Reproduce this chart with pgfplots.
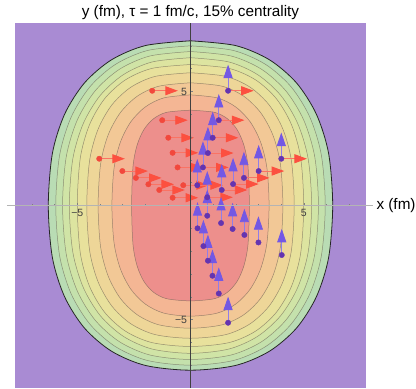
\documentclass[border=0pt]{standalone}
\usepackage{fontspec}
\setmainfont{Liberation Sans}
\usepackage{pgfplots}
\pgfplotsset{compat=1.18}
\usepackage{pgfplotstable}
\usetikzlibrary{arrows.meta}

\definecolor{bgp}{RGB}{169,139,211}
\definecolor{c1}{RGB}{185,220,180}
\definecolor{c2}{RGB}{196,225,172}
\definecolor{c3}{RGB}{208,228,166}
\definecolor{c4}{RGB}{221,228,160}
\definecolor{c5}{RGB}{232,225,156}
\definecolor{c6}{RGB}{238,214,152}
\definecolor{c7}{RGB}{242,200,150}
\definecolor{c8}{RGB}{244,182,148}
\definecolor{c9}{RGB}{237,143,140}
\definecolor{cline}{RGB}{100,90,80}
\definecolor{redA}{RGB}{252,80,64}
\definecolor{redS}{RGB}{250,115,100}
\definecolor{redD}{RGB}{242,72,60}
\definecolor{bluA}{RGB}{116,88,228}
\definecolor{bluS}{RGB}{145,125,232}
\definecolor{purD}{RGB}{100,52,176}

% upper-right particles: purple dot, red (x) and blue (y) arrows
\pgfplotstableread{
x y
1.66 5.03
1.25 3.74
0.98 2.97
0.77 2.30
0.55 1.67
0.30 0.89
0.74 0.36
1.38 0.68
1.88 0.94
2.36 1.21
3.01 1.51
4.01 2.05
}\TR
% upper-left particles: red dot, red arrows
\pgfplotstableread{
x y
-1.69 5.03
-1.25 3.74
-0.98 2.97
-0.79 2.31
-0.57 1.67
-0.32 0.89
-0.79 0.34
-1.38 0.68
-1.86 0.93
-2.41 1.21
-3.01 1.51
-4.03 2.05
}\TL
% lower-right particles: purple dot, blue arrows
\pgfplotstableread{
x y
1.66 -5.14
1.25 -3.86
0.97 -3.08
0.77 -2.42
0.57 -1.78
0.31 -1.00
0.74 -0.45
1.35 -0.77
1.86 -1.03
2.38 -1.29
3.00 -1.62
4.03 -2.17
}\BR

\begin{document}
\begin{tikzpicture}
\useasboundingbox (0,0) rectangle (416bp,389bp);
\begin{axis}[
  scale only axis, width=351bp, height=365bp,
  at={(15bp,1bp)}, anchor=south west,
  xmin=-7.75, xmax=7.75, ymin=-8, ymax=8,
  axis background/.style={fill=bgp},
  axis lines=middle,
  axis on top,
  x axis line style={-, draw={rgb,255:red,180;green,180;blue,180}, line width=1.3bp, shorten <=-8bp, shorten >=-7bp},
  y axis line style={-, draw=black!75, line width=0.6bp},
  xtick={-5,5}, xticklabels={−5,5},
  ytick={-5,5}, yticklabels={−5,5},
  minor xtick={-7,-6,-4,-3,-2,-1,1,2,3,4,6,7},
  minor ytick={-7,-6,-4,-3,-2,-1,1,2,3,4,6,7},
  tick align=inside,
  major tick length=3bp, minor tick length=2bp,
  tick style={draw=black!50, line width=0.4bp},
  xticklabel style={font=\fontsize{10.5bp}{12bp}\selectfont, text=black!75},
  yticklabel style={font=\fontsize{10.5bp}{12bp}\selectfont, text=black!75},
  title={y (fm), τ = 1 fm/c, 15\% centrality},
  every axis title/.style={at={(0.5,1)}, anchor=south, yshift=0bp, font=\fontsize{15.3bp}{17bp}\selectfont},
  xlabel={x (fm)},
  every axis x label/.style={at={(axis cs:7.75,0)}, anchor=west, xshift=7bp, font=\fontsize{15.3bp}{17bp}\selectfont},
]
% filled contour bands, outer to inner
\addplot[fill=c1, draw=black!85, line width=0.8bp, smooth] coordinates {
(0,7.22) (1.991,7.011) (3.484,6.389) (4.678,5.378) (5.557,4.006) (6.098,2.289) (6.28,0) (6.098,-2.289) (5.557,-4.006) (4.678,-5.378) (3.484,-6.389) (1.991,-7.011) (0,-7.22) (-1.991,-7.011) (-3.484,-6.389) (-4.678,-5.378) (-5.557,-4.006) (-6.098,-2.289) (-6.28,0) (-6.098,2.289) (-5.557,4.006) (-4.678,5.378) (-3.484,6.389) (-1.991,7.011) (0,7.22)};
\addplot[fill=c2, draw=cline, draw opacity=0.6, line width=0.5bp, smooth] coordinates {
(0,7.0) (1.886,6.797) (3.301,6.194) (4.432,5.214) (5.265,3.884) (5.777,2.219) (5.95,0) (5.777,-2.219) (5.265,-3.884) (4.432,-5.214) (3.301,-6.194) (1.886,-6.797) (0,-7.0) (-1.886,-6.797) (-3.301,-6.194) (-4.432,-5.214) (-5.265,-3.884) (-5.777,-2.219) (-5.95,0) (-5.777,2.219) (-5.265,3.884) (-4.432,5.214) (-3.301,6.194) (-1.886,6.797) (0,7.0)};
\addplot[fill=c3, draw=cline, draw opacity=0.6, line width=0.5bp, smooth] coordinates {
(0,6.75) (1.791,6.554) (3.135,5.973) (4.209,5.028) (5.000,3.745) (5.486,2.140) (5.65,0) (5.486,-2.140) (5.000,-3.745) (4.209,-5.028) (3.135,-5.973) (1.791,-6.554) (0,-6.75) (-1.791,-6.554) (-3.135,-5.973) (-4.209,-5.028) (-5.000,-3.745) (-5.486,-2.140) (-5.65,0) (-5.486,2.140) (-5.000,3.745) (-4.209,5.028) (-3.135,5.973) (-1.791,6.554) (0,6.75)};
\addplot[fill=c4, draw=cline, draw opacity=0.6, line width=0.5bp, smooth] coordinates {
(0,6.48) (1.696,6.292) (2.968,5.734) (3.985,4.827) (4.734,3.595) (5.195,2.054) (5.35,0) (5.195,-2.054) (4.734,-3.595) (3.985,-4.827) (2.968,-5.734) (1.696,-6.292) (0,-6.48) (-1.696,-6.292) (-2.968,-5.734) (-3.985,-4.827) (-4.734,-3.595) (-5.195,-2.054) (-5.35,0) (-5.195,2.054) (-4.734,3.595) (-3.985,4.827) (-2.968,5.734) (-1.696,6.292) (0,6.48)};
\addplot[fill=c5, draw=cline, draw opacity=0.6, line width=0.5bp, smooth] coordinates {
(0,6.18) (1.696,6.011) (2.872,5.508) (3.790,4.684) (4.457,3.550) (4.864,2.096) (5.0,0) (4.864,-2.096) (4.457,-3.550) (3.790,-4.684) (2.872,-5.508) (1.696,-6.011) (0,-6.18) (-1.696,-6.011) (-2.872,-5.508) (-3.790,-4.684) (-4.457,-3.550) (-4.864,-2.096) (-5.0,0) (-4.864,2.096) (-4.457,3.550) (-3.790,4.684) (-2.872,5.508) (-1.696,6.011) (0,6.18)};
\addplot[fill=c6, draw=cline, draw opacity=0.6, line width=0.5bp, smooth] coordinates {
(0,5.82) (1.553,5.661) (2.631,5.187) (3.471,4.411) (4.082,3.343) (4.455,1.974) (4.58,0) (4.455,-1.974) (4.082,-3.343) (3.471,-4.411) (2.631,-5.187) (1.553,-5.661) (0,-5.82) (-1.553,-5.661) (-2.631,-5.187) (-3.471,-4.411) (-4.082,-3.343) (-4.455,-1.974) (-4.58,0) (-4.455,1.974) (-4.082,3.343) (-3.471,4.411) (-2.631,5.187) (-1.553,5.661) (0,5.82)};
\addplot[fill=c7, draw=cline, draw opacity=0.6, line width=0.5bp, smooth] coordinates {
(0,5.38) (1.384,5.233) (2.344,4.795) (3.092,4.078) (3.637,3.090) (3.969,1.824) (4.08,0) (3.969,-1.824) (3.637,-3.090) (3.092,-4.078) (2.344,-4.795) (1.384,-5.233) (0,-5.38) (-1.384,-5.233) (-2.344,-4.795) (-3.092,-4.078) (-3.637,-3.090) (-3.969,-1.824) (-4.08,0) (-3.969,1.824) (-3.637,3.090) (-3.092,4.078) (-2.344,4.795) (-1.384,5.233) (0,5.38)};
\addplot[fill=c8, draw=cline, draw opacity=0.6, line width=0.5bp, smooth] coordinates {
(0,4.85) (1.177,4.718) (1.993,4.323) (2.630,3.676) (3.093,2.786) (3.375,1.645) (3.47,0) (3.375,-1.645) (3.093,-2.786) (2.630,-3.676) (1.993,-4.323) (1.177,-4.718) (0,-4.85) (-1.177,-4.718) (-1.993,-4.323) (-2.630,-3.676) (-3.093,-2.786) (-3.375,-1.645) (-3.47,0) (-3.375,1.645) (-3.093,2.786) (-2.630,3.676) (-1.993,4.323) (-1.177,4.718) (0,4.85)};
\addplot[fill=c9, draw=cline, draw opacity=0.6, line width=0.5bp, smooth] coordinates {
(0,4.18) (1.056,4.085) (1.638,3.798) (2.064,3.318) (2.362,2.633) (2.541,1.698) (2.6,0) (2.541,-1.698) (2.362,-2.633) (2.064,-3.318) (1.638,-3.798) (1.056,-4.085) (0,-4.18) (-1.056,-4.085) (-1.638,-3.798) (-2.064,-3.318) (-2.362,-2.633) (-2.541,-1.698) (-2.6,0) (-2.541,1.698) (-2.362,2.633) (-2.064,3.318) (-1.638,3.798) (-1.056,4.085) (0,4.18)};

% red (x) arrows
\addplot[quiver={u=1.13,v=0}, draw=redS, line width=0.9bp, -{Triangle[length=12.5bp,width=9bp,color=redA]}] table {\TL};
\addplot[quiver={u=1.13,v=0}, draw=redS, line width=0.9bp, -{Triangle[length=12.5bp,width=9bp,color=redA]}] table {\TR};
% blue (y) arrows
\addplot[quiver={u=0,v=1.15}, draw=bluS, line width=0.9bp, -{Triangle[length=13.5bp,width=9bp,color=bluA]}] table {\TR};
\addplot[quiver={u=0,v=1.15}, draw=bluS, line width=0.9bp, -{Triangle[length=13.5bp,width=9bp,color=bluA]}] table {\BR};
% dots
\addplot[color=redD, only marks, mark=*, mark size=2.7bp, mark options={solid, draw=redD, fill=redD}] table {\TL};
\addplot[color=purD, only marks, mark=*, mark size=2.7bp, mark options={solid, draw=purD, fill=purD}] table {\TR};
\addplot[color=purD, only marks, mark=*, mark size=2.7bp, mark options={solid, draw=purD, fill=purD}] table {\BR};
\end{axis}
\end{tikzpicture}
\end{document}
